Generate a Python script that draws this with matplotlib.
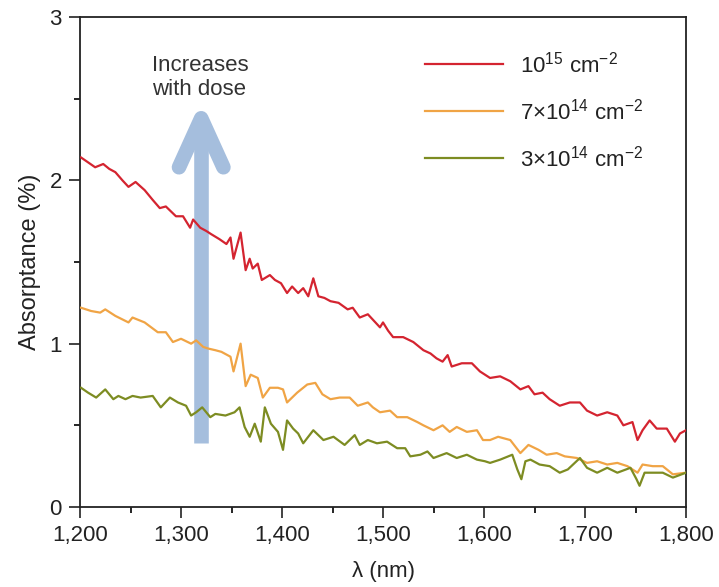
import matplotlib
matplotlib.use("Agg")
import matplotlib.pyplot as plt
from matplotlib.ticker import FuncFormatter, MultipleLocator

plt.rcParams['font.family'] = ['Liberation Sans', 'DejaVu Sans']
plt.rcParams['mathtext.fontset'] = 'custom'
plt.rcParams['mathtext.rm'] = 'Liberation Sans'
plt.rcParams['mathtext.it'] = 'Liberation Sans:italic'
plt.rcParams['mathtext.bf'] = 'Liberation Sans:bold'

# ---- data ----
wl_red = [1201,1208,1215,1223,1229,1235,1242,1248,1255,1264,1272,1279,1285,1295,1302,1309,1312,1319,1325,1330,
          1338,1345,1349,1352,1359,1364,1368,1371,1376,1380,1388,1393,1399,1405,1410,1416,1421,1426,1431,1436,
          1442,1448,1456,1465,1470,1477,1485,1491,1497,1500,1505,1510,1520,1530,1540,1547,1553,1559,1564,1568,
          1578,1588,1596,1606,1616,1626,1636,1644,1650,1658,1665,1675,1685,1695,1702,1712,1722,1732,1738,1747,
          1752,1757,1764,1771,1781,1789,1794,1800]
ab_red = [2.14,2.11,2.08,2.10,2.07,2.05,2.00,1.96,1.99,1.94,1.88,1.83,1.84,1.78,1.78,1.71,1.76,1.71,1.69,1.67,
          1.64,1.61,1.65,1.52,1.68,1.45,1.52,1.46,1.49,1.39,1.42,1.39,1.37,1.31,1.35,1.31,1.34,1.29,1.40,1.29,
          1.28,1.26,1.25,1.21,1.22,1.16,1.18,1.14,1.10,1.13,1.08,1.04,1.04,1.01,0.96,0.94,0.91,0.89,0.93,0.86,
          0.88,0.88,0.83,0.79,0.80,0.77,0.72,0.74,0.69,0.70,0.66,0.62,0.64,0.64,0.59,0.56,0.58,0.56,0.50,0.52,
          0.41,0.47,0.53,0.48,0.48,0.40,0.45,0.47]

wl_or = [1201,1211,1220,1225,1235,1248,1252,1264,1277,1285,1292,1300,1310,1315,1322,1327,1334,1340,1349,1352,
         1359,1364,1369,1376,1381,1388,1396,1401,1405,1415,1425,1433,1440,1448,1457,1467,1475,1485,1490,1497,
         1507,1514,1524,1534,1540,1550,1559,1566,1573,1583,1593,1599,1606,1614,1626,1636,1644,1654,1662,1672,
         1680,1692,1702,1712,1722,1732,1742,1752,1757,1767,1777,1787,1800]
ab_or = [1.22,1.20,1.19,1.21,1.17,1.13,1.16,1.13,1.07,1.07,1.01,1.03,1.00,1.02,0.98,0.97,0.96,0.95,0.92,0.83,
         1.00,0.74,0.81,0.79,0.67,0.73,0.73,0.72,0.64,0.70,0.75,0.76,0.69,0.66,0.67,0.67,0.62,0.64,0.61,0.58,
         0.59,0.55,0.55,0.52,0.50,0.47,0.50,0.46,0.49,0.46,0.47,0.41,0.41,0.43,0.41,0.33,0.38,0.35,0.32,0.33,
         0.31,0.30,0.27,0.28,0.26,0.27,0.25,0.21,0.26,0.25,0.25,0.20,0.21]

wl_gr = [1201,1208,1216,1225,1233,1238,1245,1252,1260,1272,1280,1289,1297,1305,1310,1315,1321,1329,1334,1344,
         1353,1358,1363,1368,1373,1379,1383,1389,1396,1401,1405,1411,1416,1421,1431,1441,1451,1462,1472,1477,
         1485,1494,1504,1514,1522,1527,1537,1544,1550,1563,1573,1583,1593,1601,1606,1616,1628,1633,1637,1641,
         1646,1655,1665,1675,1683,1695,1702,1712,1722,1732,1745,1751,1754,1759,1767,1777,1787,1800]
ab_gr = [0.73,0.70,0.67,0.72,0.66,0.68,0.66,0.68,0.67,0.68,0.61,0.67,0.64,0.62,0.56,0.58,0.61,0.55,0.57,0.56,
         0.58,0.61,0.49,0.43,0.51,0.40,0.61,0.51,0.46,0.35,0.53,0.48,0.45,0.39,0.47,0.41,0.43,0.38,0.44,0.38,
         0.41,0.39,0.40,0.36,0.36,0.31,0.32,0.34,0.30,0.33,0.30,0.32,0.29,0.28,0.27,0.29,0.32,0.23,0.17,0.28,
         0.29,0.26,0.25,0.21,0.23,0.30,0.24,0.21,0.24,0.21,0.24,0.17,0.13,0.21,0.21,0.21,0.18,0.21]

labels = [r'10$^{15}$ cm$^{-2}$', r'7$\times$10$^{14}$ cm$^{-2}$', r'3$\times$10$^{14}$ cm$^{-2}$']
colors = ['#d42430', '#f0a445', '#7d8c22']

xticks = [1200, 1300, 1400, 1500, 1600, 1700, 1800]
yticks = [0, 1, 2, 3]

# annotation arrow (data coords)
arrow_x = 1320
arrow_y0, arrow_y1 = 0.39, 2.38
arm_dx, arm_dy = 22, 0.30

fig = plt.figure(figsize=(7.19, 5.87), dpi=100)
ax = fig.add_axes([80/719, 1-507/587, 606/719, 490/587])

FS = 16
acol = '#a5bedd'
ax.plot([arrow_x, arrow_x], [arrow_y0, arrow_y1 - 0.02], color=acol, lw=10.5, solid_capstyle='butt', zorder=1)
ax.plot([arrow_x - arm_dx, arrow_x, arrow_x + arm_dx], [arrow_y1 - arm_dy, arrow_y1, arrow_y1 - arm_dy],
        color=acol, lw=10.5, solid_capstyle='round', solid_joinstyle='round', zorder=1)
ax.text(1271, 2.63, 'Increases\nwith dose', ha='left', va='center', fontsize=FS,
        color='#333333', linespacing=1.15)

for wl, ab, c, lab in [(wl_red, ab_red, colors[0], labels[0]),
                       (wl_or, ab_or, colors[1], labels[1]),
                       (wl_gr, ab_gr, colors[2], labels[2])]:
    ax.plot(wl, ab, color=c, lw=1.6, label=lab, zorder=3)

ax.set_xlim(1200, 1800)
ax.set_ylim(0, 3)
ax.set_xticks(xticks)
ax.set_yticks(yticks)
ax.xaxis.set_minor_locator(MultipleLocator(50))
ax.yaxis.set_minor_locator(MultipleLocator(0.5))
ax.xaxis.set_major_formatter(FuncFormatter(lambda v, p: f"{v:,.0f}"))
ax.tick_params(which='major', direction='out', length=8, width=1.2, labelsize=FS, colors='#222222', pad=5)
ax.tick_params(which='minor', direction='out', length=4, width=1.2)
ax.tick_params(top=False, right=False, which='both')
for s in ax.spines.values():
    s.set_linewidth(1.3)
    s.set_color('#222222')

ax.set_ylabel('Absorptance (%)', fontsize=FS + 1, color='#222222', labelpad=6)
ax.set_xlabel('λ (nm)', fontsize=FS, color='#222222', labelpad=11)

leg = ax.legend(loc='upper left', bbox_to_anchor=(0.569, 0.93), frameon=False, fontsize=FS,
                handlelength=3.5, handletextpad=0.8, labelspacing=0.95, borderpad=0, borderaxespad=0)
for t in leg.get_texts():
    t.set_color('#222222')

fig.savefig('out.png', dpi=100)
